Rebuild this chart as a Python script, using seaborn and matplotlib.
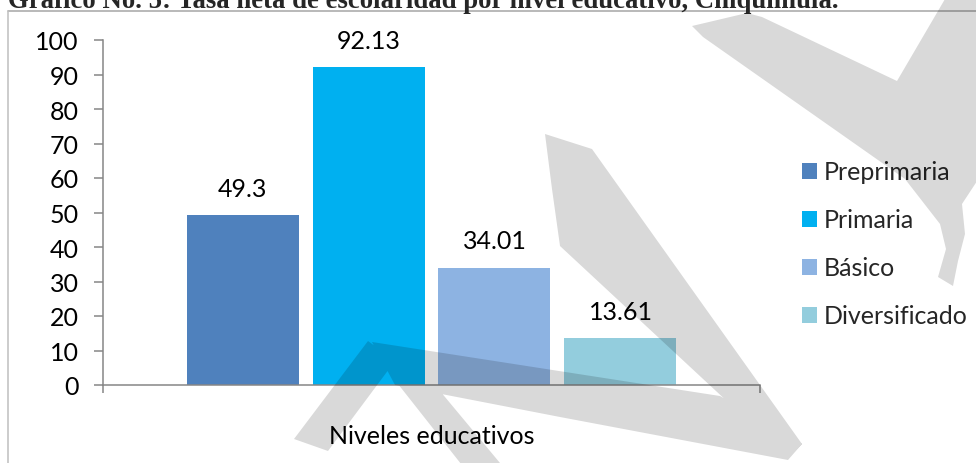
import numpy as np
import pandas as pd
import seaborn as sns
import matplotlib
matplotlib.use("Agg")
import matplotlib.pyplot as plt
from matplotlib.path import Path
from matplotlib.patches import PathPatch
from matplotlib.lines import Line2D

# ---------------- data ----------------
category = ["Niveles educativos"]
levels = ["Preprimaria", "Primaria", "Básico", "Diversificado"]
rates = [49.3, 92.13, 34.01, 13.61]
colors = ["#4F81BD", "#00B0F0", "#8DB3E2", "#93CDDD"]
yticks = list(range(0, 101, 10))
title = "Gráfico No. 5: Tasa neta de escolaridad por nivel educativo, Chiquimula."

# ---------------- style ----------------
sns.set_style("white")
plt.rcParams["font.family"] = ["Lato", "DejaVu Sans"]
plt.rcParams["axes.unicode_minus"] = False

W, H = 976, 464
fig = plt.figure(figsize=(W / 100, H / 100), dpi=100)


def fx(px):
    return px / W


def fy(py):
    return 1 - py / H


AXC = "#868686"
FS = 18

ax = fig.add_axes([fx(103), fy(386), fx(760) - fx(103), fy(41) - fy(386)])
df = pd.DataFrame({"grupo": category * len(levels), "nivel": levels, "tasa": rates})
sns.barplot(data=df, x="grupo", y="tasa", hue="nivel", hue_order=levels,
            palette=colors, saturation=1, width=0.767, gap=0.111,
            linewidth=0, ax=ax)

ax.set_xlim(-0.5, 0.5)
ax.set_ylim(0, 100)
ax.set_yticks(yticks)
ax.set_xlabel("")
ax.set_ylabel("")
for s in ["top", "right"]:
    ax.spines[s].set_visible(False)
for s in ["left", "bottom"]:
    ax.spines[s].set_color(AXC)
    ax.spines[s].set_linewidth(1.1)

ax.tick_params(axis="y", which="major", direction="out", length=6.5, width=1.1,
               color=AXC, labelsize=FS, pad=11, left=True)
ax.set_xticks([-0.5, 0.5], minor=True)
ax.tick_params(axis="x", which="minor", direction="out", length=6, width=1.1,
               color=AXC, bottom=True)
ax.tick_params(axis="x", which="major", length=0, labelsize=FS, pad=28)
for lab in ax.get_yticklabels() + ax.get_xticklabels():
    lab.set_color("black")

for cont, v in zip(ax.containers, rates):
    ax.bar_label(cont, labels=[f"{v:g}"], padding=11, fontsize=FS, color="black")

leg = ax.legend(loc="center left", bbox_to_anchor=(fx(802), fy(245)),
                bbox_transform=fig.transFigure, frameon=False, fontsize=FS,
                handlelength=0.6, handleheight=0.6, handletextpad=0.25,
                labelspacing=1.0, borderpad=0, borderaxespad=0)

# ---------------- frame & title ----------------
fig.add_artist(Line2D([fx(8), 1.0], [fy(12), fy(12)], transform=fig.transFigure,
                      color="#a6a6a6", lw=1.1))
fig.add_artist(Line2D([fx(8), fx(8)], [fy(12), 0.0], transform=fig.transFigure,
                      color="#bfbfbf", lw=1.1))

t = fig.text(fx(8), fy(7.5), title, fontfamily=["Liberation Serif", "DejaVu Serif"],
             fontweight="bold", fontsize=16, ha="left", va="baseline")
fig.canvas.draw()
bb = t.get_window_extent()
t.set_fontsize(16 * (840 - 8) / bb.width)

# ---------------- watermark (decorative page stamp) ----------------
over = fig.add_axes([0, 0, 1, 1], zorder=10)
over.set_xlim(0, W)
over.set_ylim(H, 0)
over.axis("off")
over.patch.set_alpha(0)

shapes = [
    [(294, 440), (368, 342), (395, 362), (328, 452)],
    [(372, 343), (720, 397), (802, 445), (788, 461), (560, 418), (395, 386)],
    [(398, 385), (440, 392), (505, 470), (465, 470)],
    [(545, 135), (592, 150), (802, 445), (787, 458), (560, 247), (552, 190)],
    [(692, 27), (747, 14), (762, 18), (897, 82), (945, 0), (985, 0), (985, 170),
     (962, 205), (965, 235), (958, 262), (953, 287), (938, 278), (946, 250),
     (940, 225), (905, 180), (703, 38)],
]
verts, codes = [], []
for poly in shapes:
    p = np.array(poly, dtype=float)
    area = 0.5 * np.sum(p[:, 0] * np.roll(p[:, 1], -1) - np.roll(p[:, 0], -1) * p[:, 1])
    if area < 0:
        p = p[::-1]
    verts += list(map(tuple, p)) + [tuple(p[0])]
    codes += [Path.MOVETO] + [Path.LINETO] * (len(p) - 1) + [Path.CLOSEPOLY]
over.add_patch(PathPatch(Path(verts, codes), facecolor="black", edgecolor="none",
                         alpha=0.15))

fig.savefig("out.png", dpi=100)
